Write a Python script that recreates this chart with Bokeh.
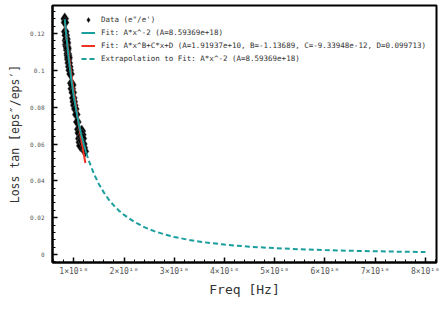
from bokeh.plotting import figure
from bokeh.embed import file_html
from bokeh.resources import INLINE
from bokeh.models import Range1d, FixedTicker, Legend, LegendItem

# ---- data (frequency in Hz, loss tangent) ----
freq_data = [0.820e10, 0.825e10, 0.830e10, 0.840e10, 0.845e10, 0.850e10, 0.855e10,
             0.860e10, 0.865e10, 0.870e10, 0.875e10, 0.880e10, 0.885e10, 0.890e10,
             0.895e10, 0.900e10, 0.910e10, 0.920e10, 0.935e10, 0.950e10, 0.960e10,
             0.970e10, 0.980e10, 0.990e10, 1.000e10, 1.010e10, 1.030e10, 1.050e10,
             1.070e10, 1.090e10, 1.100e10, 1.110e10, 1.120e10, 1.130e10, 1.140e10,
             1.150e10, 1.160e10, 1.170e10, 1.180e10, 1.190e10, 1.200e10, 1.220e10]
loss_data = [0.128, 0.126, 0.121, 0.119, 0.116, 0.114, 0.117,
             0.113, 0.115, 0.111, 0.112, 0.109, 0.108, 0.106,
             0.107, 0.104, 0.102, 0.100, 0.098, 0.093, 0.090,
             0.092, 0.088, 0.085, 0.083, 0.081, 0.079, 0.076,
             0.072, 0.068, 0.066, 0.063, 0.061, 0.059, 0.064,
             0.062, 0.067, 0.065, 0.063, 0.060, 0.058, 0.056]

# Fit A*x^-2 over the data range
freq_fit1 = [0.82e10, 0.86e10, 0.90e10, 0.95e10, 1.00e10, 1.05e10, 1.10e10, 1.15e10, 1.20e10, 1.25e10]
loss_fit1 = [0.1278, 0.1162, 0.1061, 0.0952, 0.0859, 0.0779, 0.0710, 0.0650, 0.0597, 0.0550]

# Fit A*x^B+C*x+D over the data range
freq_fit2 = [0.82e10, 0.86e10, 0.90e10, 0.95e10, 1.00e10, 1.05e10, 1.10e10, 1.15e10, 1.20e10, 1.23e10]
loss_fit2 = [0.1260, 0.1169, 0.1082, 0.0980, 0.0884, 0.0793, 0.0707, 0.0624, 0.0544, 0.0497]

# Extrapolation of A*x^-2
freq_ext = [1.25e10, 1.3e10, 1.4e10, 1.5e10, 1.6e10, 1.7e10, 1.8e10, 1.9e10, 2.0e10, 2.2e10,
            2.4e10, 2.6e10, 2.8e10, 3.0e10, 3.3e10, 3.6e10, 4.0e10, 4.5e10, 5.0e10, 5.5e10,
            6.0e10, 6.5e10, 7.0e10, 7.5e10, 8.0e10]
loss_ext = [0.0550, 0.0509, 0.0438, 0.0382, 0.0336, 0.0297, 0.0265, 0.0238, 0.0215, 0.0178,
            0.0149, 0.0127, 0.0110, 0.00955, 0.00789, 0.00663, 0.00537, 0.00424, 0.00344, 0.00284,
            0.00239, 0.00203, 0.00175, 0.00153, 0.00134]

x_ticks = [1e10, 2e10, 3e10, 4e10, 5e10, 6e10, 7e10, 8e10]
x_tick_labels = ["1×10¹⁰", "2×10¹⁰", "3×10¹⁰", "4×10¹⁰", "5×10¹⁰", "6×10¹⁰", "7×10¹⁰", "8×10¹⁰"]
x_minor = [i * 0.2e10 for i in range(2, 42)]
y_ticks = [0, 0.02, 0.04, 0.06, 0.08, 0.10, 0.12]
y_tick_labels = ["0", "0.02", "0.04", "0.06", "0.08", "0.1", "0.12"]
y_minor = [round(-0.004 + i * 0.004, 3) for i in range(0, 36)]

legend_labels = [
    "Data (e\"/e')",
    "Fit: A*x^-2 (A=8.59369e+18)",
    "Fit: A*x^B+C*x+D (A=1.91937e+10, B=-1.13689, C=-9.33948e-12, D=0.099713)",
    "Extrapolation to Fit: A*x^-2 (A=8.59369e+18)",
]

TEAL = "#1a9e9e"
RED = "#ee3322"
MONO = "DejaVu Sans Mono"

p = figure(width=444, height=314, output_backend="svg", toolbar_location=None,
           x_range=Range1d(0.576e10, 8.22e10), y_range=Range1d(-0.00434, 0.1352),
           min_border_left=52, min_border_right=8, min_border_top=5, min_border_bottom=52)
p.background_fill_color = "white"
p.border_fill_color = "white"
p.outline_line_color = "black"
p.outline_line_width = 2
p.grid.visible = False

r_data = p.scatter(freq_data, loss_data, marker="diamond", size=12, fill_color="black",
                   line_color="#555555", line_width=0.5)
r_fit2 = p.line(freq_fit2, loss_fit2, line_color=RED, line_width=2)
r_fit1 = p.line(freq_fit1, loss_fit1, line_color=TEAL, line_width=2)
r_ext = p.line(freq_ext, loss_ext, line_color=TEAL, line_width=2, line_dash="5 3")

legend = Legend(items=[
    LegendItem(label=legend_labels[0], renderers=[r_data]),
    LegendItem(label=legend_labels[1], renderers=[r_fit1]),
    LegendItem(label=legend_labels[2], renderers=[r_fit2]),
    LegendItem(label=legend_labels[3], renderers=[r_ext]),
])
legend.border_line_color = None
legend.background_fill_alpha = 0
legend.margin = 0
legend.padding = 0
legend.location = (29, 197)
legend.label_text_font = MONO
legend.label_text_font_size = "7.5px"
legend.label_text_color = "#333333"
legend.glyph_width = 14
legend.glyph_height = 13
legend.label_height = 13
legend.spacing = 0
legend.label_standoff = 6
p.add_layout(legend)

xa = p.xaxis[0]
xa.ticker = FixedTicker(ticks=x_ticks, minor_ticks=x_minor)
xa.major_label_overrides = {t: l for t, l in zip(x_ticks, x_tick_labels)}
xa.axis_label = "Freq [Hz]"
ya = p.yaxis[0]
ya.ticker = FixedTicker(ticks=y_ticks, minor_ticks=y_minor)
ya.major_label_overrides = {t: l for t, l in zip(y_ticks, y_tick_labels)}
ya.axis_label = "Loss tan [eps″/eps′]"

for ax in (xa, ya):
    ax.axis_line_width = 2
    ax.axis_line_color = "black"
    ax.major_tick_in = 5
    ax.major_tick_out = 0
    ax.minor_tick_in = 3
    ax.minor_tick_out = 0
    ax.major_tick_line_width = 1.5
    ax.major_label_text_font = MONO
    ax.major_label_text_color = "#555555"
    ax.axis_label_text_font = MONO
    ax.axis_label_text_font_style = "normal"
    ax.axis_label_text_color = "#333333"
xa.axis_label_text_font_size = "13px"
ya.axis_label_text_font_size = "11.5px"
xa.major_label_text_font_size = "8px"
ya.major_label_text_font_size = "6px"
xa.major_label_standoff = 4
ya.major_label_standoff = 8
xa.axis_label_standoff = 3
ya.axis_label_standoff = 5

open("out.html", "w").write(file_html(p, INLINE))
